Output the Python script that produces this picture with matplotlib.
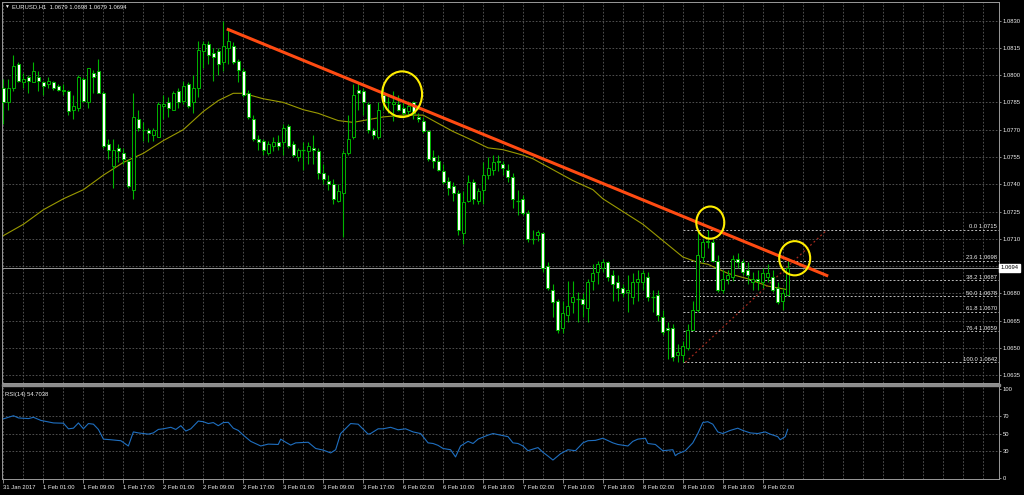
import matplotlib
matplotlib.use("Agg")
import matplotlib.pyplot as plt
import matplotlib.transforms as mtrans
from matplotlib.patches import Ellipse, Rectangle
from matplotlib.ticker import FormatStrFormatter
import numpy as np

plt.rcParams["font.family"] = ["Liberation Sans", "DejaVu Sans"]

# --- EURUSD H1 candles ---
opens = [1.0793, 1.0785, 1.0793, 1.0806, 1.0796, 1.0799, 1.0796, 1.0799, 1.0796, 1.0795,
         1.0796, 1.0794, 1.0791, 1.0791, 1.0781, 1.0782, 1.0798, 1.0785, 1.0801, 1.0802,
         1.0790, 1.0762, 1.0750, 1.0760, 1.0757, 1.0753, 1.0737, 1.0776, 1.0770, 1.0770,
         1.0767, 1.0766, 1.0783, 1.0785, 1.0781, 1.0791, 1.0786, 1.0795, 1.0785, 1.0793,
         1.0813, 1.0817, 1.0812, 1.0813, 1.0807, 1.0815, 1.0816, 1.0808, 1.0802, 1.0790,
         1.0776, 1.0765, 1.0764, 1.0757, 1.0761, 1.0763, 1.0763, 1.0772, 1.0762, 1.0755,
         1.0759, 1.0758, 1.0760, 1.0758, 1.0746, 1.0742, 1.0740, 1.0731, 1.0735, 1.0757,
         1.0766, 1.0792, 1.0791, 1.0784, 1.0770, 1.0766, 1.0789, 1.0785, 1.0784, 1.0784,
         1.0782, 1.0780, 1.0785, 1.0777, 1.0775, 1.0769, 1.0755, 1.0753, 1.0747, 1.0742,
         1.0739, 1.0735, 1.0713, 1.0731, 1.0741, 1.0731, 1.0737, 1.0745, 1.0748, 1.0753,
         1.0751, 1.0748, 1.0744, 1.0731, 1.0732, 1.0724, 1.0710, 1.0712, 1.0713, 1.0695,
         1.0682, 1.0676, 1.0661, 1.0668, 1.0675, 1.0677, 1.0677, 1.0672, 1.0687, 1.0692,
         1.0694, 1.0697, 1.0690, 1.0686, 1.0683, 1.0681, 1.0678, 1.0686, 1.0686, 1.0689,
         1.0678, 1.0679, 1.0667, 1.0661, 1.0661, 1.0646, 1.0646, 1.0650, 1.0660, 1.0671,
         1.0700, 1.0708, 1.0708, 1.0698, 1.0682, 1.0688, 1.0689, 1.0699, 1.0697, 1.0693,
         1.0686, 1.0688, 1.0686, 1.0689, 1.0689, 1.0683, 1.0676, 1.0679]
highs = [1.0798, 1.0798, 1.0811, 1.0807, 1.0801, 1.0800, 1.0807, 1.0802, 1.0797, 1.0799,
         1.0797, 1.0795, 1.0795, 1.0792, 1.0789, 1.0800, 1.0799, 1.0804, 1.0803, 1.0809,
         1.0791, 1.0765, 1.0765, 1.0762, 1.0760, 1.0754, 1.0790, 1.0781, 1.0774, 1.0771,
         1.0771, 1.0785, 1.0789, 1.0788, 1.0791, 1.0793, 1.0797, 1.0796, 1.0800, 1.0819,
         1.0819, 1.0819, 1.0815, 1.0815, 1.0830, 1.0826, 1.0818, 1.0809, 1.0804, 1.0792,
         1.0778, 1.0767, 1.0765, 1.0764, 1.0766, 1.0767, 1.0773, 1.0773, 1.0764, 1.0760,
         1.0763, 1.0763, 1.0767, 1.0760, 1.0751, 1.0745, 1.0743, 1.0740, 1.0759, 1.0778,
         1.0795, 1.0796, 1.0793, 1.0785, 1.0771, 1.0785, 1.0793, 1.0788, 1.0791, 1.0789,
         1.0786, 1.0786, 1.0786, 1.0779, 1.0777, 1.0770, 1.0759, 1.0756, 1.0751, 1.0744,
         1.0741, 1.0737, 1.0736, 1.0745, 1.0743, 1.0738, 1.0752, 1.0755, 1.0756, 1.0756,
         1.0753, 1.0751, 1.0746, 1.0737, 1.0734, 1.0726, 1.0715, 1.0715, 1.0714, 1.0697,
         1.0685, 1.0677, 1.0676, 1.0687, 1.0687, 1.0681, 1.0680, 1.0688, 1.0696, 1.0698,
         1.0699, 1.0698, 1.0693, 1.0690, 1.0685, 1.0690, 1.0691, 1.0693, 1.0693, 1.0692,
         1.0682, 1.0682, 1.0671, 1.0664, 1.0663, 1.0652, 1.0654, 1.0663, 1.0676, 1.0714,
         1.0710, 1.0715, 1.0710, 1.0701, 1.0693, 1.0693, 1.0701, 1.0702, 1.0699, 1.0697,
         1.0692, 1.0693, 1.0694, 1.0696, 1.0693, 1.0686, 1.0683, 1.0698]
lows = [1.0773, 1.0781, 1.0791, 1.0796, 1.0793, 1.0790, 1.0796, 1.0791, 1.0789, 1.0793,
        1.0792, 1.0791, 1.0789, 1.0778, 1.0776, 1.0780, 1.0785, 1.0782, 1.0790, 1.0790,
        1.0760, 1.0754, 1.0738, 1.0752, 1.0751, 1.0738, 1.0732, 1.0769, 1.0764, 1.0763,
        1.0764, 1.0766, 1.0776, 1.0777, 1.0781, 1.0782, 1.0784, 1.0782, 1.0779, 1.0788,
        1.0804, 1.0806, 1.0797, 1.0800, 1.0802, 1.0806, 1.0806, 1.0796, 1.0788, 1.0776,
        1.0764, 1.0759, 1.0756, 1.0756, 1.0758, 1.0759, 1.0756, 1.0760, 1.0755, 1.0753,
        1.0748, 1.0751, 1.0751, 1.0743, 1.0740, 1.0737, 1.0729, 1.0730, 1.0711, 1.0756,
        1.0765, 1.0781, 1.0778, 1.0768, 1.0765, 1.0765, 1.0781, 1.0779, 1.0775, 1.0780,
        1.0778, 1.0778, 1.0776, 1.0774, 1.0768, 1.0753, 1.0749, 1.0747, 1.0740, 1.0734,
        1.0731, 1.0712, 1.0707, 1.0730, 1.0729, 1.0729, 1.0729, 1.0743, 1.0745, 1.0747,
        1.0745, 1.0741, 1.0727, 1.0723, 1.0723, 1.0708, 1.0707, 1.0709, 1.0692, 1.0682,
        1.0667, 1.0658, 1.0658, 1.0664, 1.0669, 1.0664, 1.0667, 1.0664, 1.0682, 1.0685,
        1.0692, 1.0687, 1.0676, 1.0676, 1.0678, 1.0670, 1.0674, 1.0676, 1.0682, 1.0676,
        1.0670, 1.0665, 1.0657, 1.0644, 1.0643, 1.0642, 1.0642, 1.0649, 1.0660, 1.0670,
        1.0697, 1.0705, 1.0697, 1.0681, 1.0680, 1.0685, 1.0687, 1.0694, 1.0690, 1.0685,
        1.0682, 1.0682, 1.0683, 1.0686, 1.0681, 1.0674, 1.0671, 1.0679]
closes = [1.0785, 1.0793, 1.0805, 1.0797, 1.0798, 1.0797, 1.0802, 1.0797, 1.0794, 1.0797,
          1.0793, 1.0792, 1.0792, 1.0780, 1.0783, 1.0799, 1.0786, 1.0804, 1.0799, 1.0790,
          1.0761, 1.0759, 1.0759, 1.0758, 1.0754, 1.0739, 1.0777, 1.0771, 1.0770, 1.0768,
          1.0770, 1.0784, 1.0784, 1.0782, 1.0790, 1.0785, 1.0794, 1.0783, 1.0793, 1.0814,
          1.0817, 1.0811, 1.0810, 1.0806, 1.0816, 1.0819, 1.0807, 1.0803, 1.0789, 1.0777,
          1.0765, 1.0763, 1.0759, 1.0762, 1.0763, 1.0761, 1.0771, 1.0761, 1.0756, 1.0759,
          1.0759, 1.0761, 1.0759, 1.0746, 1.0743, 1.0740, 1.0732, 1.0736, 1.0757, 1.0765,
          1.0789, 1.0790, 1.0785, 1.0770, 1.0767, 1.0781, 1.0785, 1.0785, 1.0785, 1.0781,
          1.0779, 1.0783, 1.0779, 1.0776, 1.0769, 1.0754, 1.0753, 1.0748, 1.0741, 1.0738,
          1.0735, 1.0715, 1.0730, 1.0741, 1.0732, 1.0736, 1.0745, 1.0749, 1.0752, 1.0752,
          1.0749, 1.0744, 1.0732, 1.0731, 1.0724, 1.0710, 1.0710, 1.0714, 1.0694, 1.0683,
          1.0675, 1.0660, 1.0669, 1.0673, 1.0678, 1.0677, 1.0674, 1.0686, 1.0691, 1.0696,
          1.0697, 1.0689, 1.0685, 1.0683, 1.0680, 1.0682, 1.0686, 1.0688, 1.0691, 1.0678,
          1.0678, 1.0668, 1.0659, 1.0660, 1.0645, 1.0648, 1.0651, 1.0660, 1.0671, 1.0701,
          1.0708, 1.0709, 1.0698, 1.0682, 1.0688, 1.0690, 1.0699, 1.0697, 1.0692, 1.0690,
          1.0688, 1.0687, 1.0691, 1.0691, 1.0682, 1.0675, 1.0680, 1.0694]

# moving average (olive line), sampled along the chart
ma_bars = [-0.5, 4, 8, 12, 16, 20, 24, 28, 32, 36, 40, 43, 46, 48, 52, 56, 60, 63, 67, 70,
           72, 76, 80, 84, 86, 90, 94, 97, 100, 104, 106, 110, 114, 118, 120, 124, 128, 132, 136, 139,
           141, 145, 149, 153, 157]
ma_vals = [1.0711, 1.0718, 1.0726, 1.0732, 1.0737, 1.0745, 1.0752, 1.0757, 1.0764, 1.0770,
           1.0780, 1.0786, 1.0790, 1.0790, 1.0787, 1.0785, 1.0781, 1.0779, 1.0775, 1.0774,
           1.0775, 1.0777, 1.0778, 1.0778, 1.0775, 1.0769, 1.0764, 1.0760, 1.0759, 1.0756,
           1.0754, 1.0748, 1.0742, 1.0737, 1.0732, 1.0725, 1.0718, 1.0709, 1.0700, 1.0697,
           1.0696, 1.0691, 1.0688, 1.0684, 1.0682]

# RSI(14)
rsi_bars = [0, 2, 3, 5, 6, 7.5, 10, 12, 13, 14, 15, 16, 17, 18, 19, 20, 21.5, 23.5, 25, 26,
            27, 29, 30, 31, 32, 33.5, 34.5, 35.5, 36.5, 37.5, 39, 40, 41, 42, 43, 44, 45, 46, 47, 48,
            49.5, 51.5, 53, 55, 55.5, 56.5, 57.5, 58.5, 61, 62.5, 64, 65.5, 66.5, 67.5, 69.5, 71, 71.5, 73, 73.5, 75,
            76, 77.5, 79, 80.5, 82, 83.5, 85, 86, 87, 88, 89.5, 90.5, 91.5, 93, 94, 95, 97, 98, 99.5, 101,
            102, 103, 104, 105, 106, 107, 108, 109, 110, 111.5, 113, 114.5, 116, 117, 118.5, 120, 122, 123, 125, 126,
            127, 128.5, 129, 130.5, 132, 134, 134.5, 135, 136.5, 138, 139, 140, 141, 142, 143, 144, 145.5, 147, 148, 149.5,
            151, 152.5, 153.5, 155, 155.5, 156.5, 157]
rsi_vals = [66.5, 70.0, 67.5, 66.8, 68.2, 64.7, 61.9, 61.6, 55.3, 56.0, 61.9, 55.3, 61.2, 60.5, 54.6, 43.7, 43.0, 41.9, 36.0, 51.8,
            50.7, 49.3, 50.7, 54.6, 55.3, 57.0, 54.6, 58.8, 52.8, 55.3, 64.0, 63.3, 61.2, 62.3, 58.8, 62.3, 62.6, 56.0, 53.5, 48.2,
            41.2, 36.0, 38.1, 37.7, 43.7, 40.2, 37.0, 39.5, 40.2, 33.2, 31.4, 28.2, 31.8, 50.0, 61.2, 60.5, 57.7, 49.3, 50.0, 55.3,
            55.3, 57.0, 54.2, 55.3, 51.8, 50.0, 39.5, 38.8, 36.7, 33.2, 31.8, 23.7, 36.0, 41.2, 38.8, 43.7, 48.2, 50.0, 48.2, 46.5,
            39.5, 38.8, 36.0, 30.7, 32.5, 34.2, 28.9, 24.7, 20.2, 27.2, 31.8, 30.7, 39.5, 41.9, 42.3, 44.7, 39.5, 37.7, 36.0, 41.2,
            43.7, 44.7, 38.8, 37.7, 30.7, 31.8, 25.1, 27.2, 30.7, 39.5, 50.0, 62.3, 63.3, 60.5, 51.8, 50.0, 53.5, 56.0, 53.5, 50.7,
            50.0, 51.8, 49.3, 46.5, 43.0, 46.5, 54.7]

grid_prices = [1.0635, 1.0650, 1.0665, 1.0680, 1.0695, 1.0710, 1.0725, 1.0740, 1.0755,
               1.0770, 1.0785, 1.0800, 1.0815, 1.0830]
# 1.0695 is covered by the current-price box, so it gets no label
label_prices = [1.0635, 1.0650, 1.0665, 1.0680, 1.0710, 1.0725, 1.0740, 1.0755,
                1.0770, 1.0785, 1.0800, 1.0815, 1.0830]
time_labels = ["31 Jan 2017", "1 Feb 01:00", "1 Feb 09:00", "1 Feb 17:00", "2 Feb 01:00",
               "2 Feb 09:00", "2 Feb 17:00", "3 Feb 01:00", "3 Feb 09:00", "3 Feb 17:00",
               "6 Feb 02:00", "6 Feb 10:00", "6 Feb 18:00", "7 Feb 02:00", "7 Feb 10:00",
               "7 Feb 18:00", "8 Feb 02:00", "8 Feb 10:00", "8 Feb 18:00", "9 Feb 02:00"]

# fibonacci retracement (8 Feb low -> high)
fib_levels = [1.0715, 1.06978, 1.06871, 1.06785, 1.06699, 1.06592, 1.0642]
fib_labels = ["0.0 1.0715", "23.6 1.0698", "38.2 1.0687", "50.0 1.0678",
              "61.8 1.0670", "76.4 1.0659", "100.0 1.0642"]
fib_start = 136.1
fib_diag_x = [136.5, 164.9]
fib_diag_y = [1.0642, 1.0715]

trend_x = [44.7, 165.1]
trend_y = [1.08254, 1.06895]

# yellow circles: (bar, price, width in bars, height in price)
circles = [(79.8, 1.07895, 8.0, 0.00251),
           (141.5, 1.07189, 5.6, 0.00177),
           (158.4, 1.06993, 6.2, 0.00188)]

last_price = 1.0694

GREEN = "#00b400"
GRID = "#5c5c5c"
TXT = "#f0f0f0"
FS = 4.2
W, H = 1024, 495


def fbox(x0, y0, x1, y1):
    return [x0 / W, 1 - y1 / H, (x1 - x0) / W, (y1 - y0) / H]


fig = plt.figure(figsize=(W / 100, H / 100), dpi=100, facecolor="black")
ax = fig.add_axes(fbox(2, 2, 999, 383), facecolor="black")
ax_rsi = fig.add_axes(fbox(2, 386, 999, 479), facecolor="black", sharex=ax)

o = np.array(opens)
h = np.array(highs)
l = np.array(lows)
c = np.array(closes)
x = np.arange(len(o))

# candles
ax.vlines(x, l, h, color=GREEN, lw=0.8, zorder=3)
up = c > o
dn = c < o
flat = c == o
lo = np.minimum(o, c)
hgt = np.abs(c - o)
ax.bar(x[up], hgt[up], bottom=lo[up], width=0.6, color="black", edgecolor=GREEN, lw=0.7, zorder=4)
ax.bar(x[dn], hgt[dn], bottom=lo[dn], width=0.6, color="white", edgecolor=GREEN, lw=0.7, zorder=4)
ax.hlines(o[flat], x[flat] - 0.35, x[flat] + 0.35, color=GREEN, lw=0.9, zorder=4)

ax.plot(ma_bars, ma_vals, color="#9a9a00", lw=0.8, zorder=2)

# grid
grid_bars = np.arange(0, 200, 4)
for gb in grid_bars:
    ax.axvline(gb, color=GRID, lw=0.6, ls=(0, (2, 2)), zorder=1)
    ax_rsi.axvline(gb, color=GRID, lw=0.6, ls=(0, (2, 2)), zorder=1)
for p in grid_prices:
    ax.axhline(p, color=GRID, lw=0.6, ls=(0, (2, 2)), zorder=1)
for r in [30, 50, 70]:
    ax_rsi.axhline(r, color=GRID, lw=0.6, ls=(0, (2, 2)), zorder=1)

# current price line
ax.axhline(last_price, color="#9a9a9a", lw=0.7, zorder=2)

# fibonacci
ax.hlines(fib_levels, fib_start, 199.3, color="#bcbcbc", lw=0.7, ls=(0, (2, 2)), zorder=2)
for lv, lab in zip(fib_levels, fib_labels):
    ax.text(198.9, lv + 0.00003, lab, ha="right", va="bottom", fontsize=FS, color=TXT, zorder=6)
ax.plot(fib_diag_x, fib_diag_y, color="#a3281c", lw=0.9, ls=(0, (1.5, 2.2)), zorder=2)

# trendline and circles
ax.plot(trend_x, trend_y, color="#ff4b12", lw=2.2, solid_capstyle="butt", zorder=5)
for cx, cy, cw, ch in circles:
    ax.add_patch(Ellipse((cx, cy), cw, ch, fill=False, ec="#ffee00", lw=1.5, zorder=6))

ax.set_xlim(-0.3, 199.3)
ax.set_ylim(1.06307, 1.08402)

ax.yaxis.tick_right()
ax.set_yticks(label_prices)
ax.yaxis.set_major_formatter(FormatStrFormatter("%.4f"))
ax.tick_params(axis="y", labelsize=FS, labelcolor=TXT, color="#a0a0a0", length=1.5, width=0.6, pad=1)
ax.tick_params(axis="x", labelbottom=False, length=0)

trans = mtrans.blended_transform_factory(ax.transAxes, ax.transData)
ax.text(1.0015, last_price, "1.0694", transform=trans, ha="left", va="center", fontsize=FS,
        color="black", zorder=10, clip_on=False,
        bbox=dict(boxstyle="square,pad=0.25", fc="white", ec="white"))

# RSI panel
ax_rsi.plot(rsi_bars, rsi_vals, color="#1f6fc0", lw=0.8, zorder=3)
ax_rsi.set_ylim(-1.1, 103.4)
ax_rsi.yaxis.tick_right()
ax_rsi.set_yticks([0, 30, 50, 70, 100])
ax_rsi.tick_params(axis="y", labelsize=FS, labelcolor=TXT, color="#a0a0a0", length=1.5, width=0.6, pad=1)
label_bars = np.arange(len(time_labels)) * 8
ax_rsi.set_xticks(label_bars)
ax_rsi.set_xticklabels(time_labels, ha="left")
ax_rsi.tick_params(axis="x", labelsize=FS, labelcolor=TXT, color="#a0a0a0", length=3, width=0.6, pad=1.5)
ax_rsi.text(0.003, 0.94, "RSI(14) 54.7038", transform=ax_rsi.transAxes, fontsize=FS,
            color=TXT, va="top", ha="left")

for a in (ax, ax_rsi):
    for s in a.spines.values():
        s.set_color("#9a9a9a")
        s.set_linewidth(0.7)

# separator bar between the two windows
fig.patches.append(Rectangle((2 / W, 1 - 386 / H), 998 / W, 2.5 / H, transform=fig.transFigure,
                             color="#8c8c8c", zorder=5))

fig.text(4 / W, 1 - 6.5 / H, "\u25bc", fontsize=3.5, color=TXT, va="center")
fig.text(12 / W, 1 - 6.5 / H, "EURUSD,H1  1.0679 1.0698 1.0679 1.0694", fontsize=FS,
         color=TXT, va="center")

fig.savefig("out.png", dpi=100, facecolor="black")
